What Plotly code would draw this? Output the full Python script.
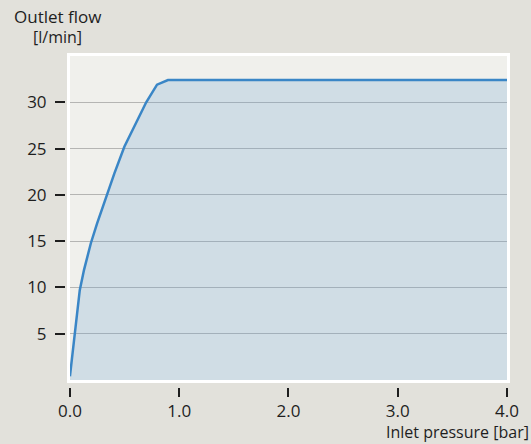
import plotly.graph_objects as go

# Кривая расхода: давление на входе [bar] -> расход [l/min]
pressure = [0.0, 0.045, 0.09, 0.129, 0.192, 0.248, 0.331, 0.406, 0.498, 0.602, 0.698, 0.797, 0.897, 4.0]
flow = [0.4, 5.0, 9.7, 11.9, 14.8, 16.9, 19.8, 22.3, 25.2, 27.7, 30.0, 31.9, 32.4, 32.4]

x_ticks = [0, 1, 2, 3, 4]
x_tick_labels = ["0.0", "1.0", "2.0", "3.0", "4.0"]
y_ticks = [5, 10, 15, 20, 25, 30]
y_tick_labels = ["5", "10", "15", "20", "25", "30"]

PAGE_BG = "#e2e1db"
PLOT_BG = "#f0f0ec"
FILL = "rgba(107, 161, 207, 0.24)"  # полупрозрачная, чтобы сетка была видна
GRID = "#b5b5b3"
LINE = "#3a86c6"
TEXT = "#1e1e1e"
FONT = "Open Sans"

W, H = 531, 444
ML, MR, MT, MB = 65, 18, 56, 57
x_dom0 = (70 - ML) / (W - ML - MR)
y_dom0 = (H - MB - 380) / (H - MT - MB)

fig = go.Figure()

fig.add_trace(go.Scatter(
    x=pressure,
    y=flow,
    mode="lines",
    line=dict(color=LINE, width=2.5),
    fill="tozeroy",
    fillcolor=FILL,
    hoverinfo="skip",
    showlegend=False,
))

# пустой след для осей с отступом (засечки отдельно от рамки)
fig.add_trace(go.Scatter(x=[], y=[], xaxis="x2", yaxis="y2", showlegend=False))

tick_font = dict(family=FONT, size=17, color=TEXT)


def text_note(text, x, y, xshift, yshift, xanchor, size=17):
    return dict(
        text=text,
        xref="paper", yref="paper",
        x=x, y=y,
        xshift=xshift, yshift=yshift,
        xanchor=xanchor, yanchor="middle",
        showarrow=False,
        font=dict(family=FONT, size=size, color=TEXT),
    )


fig.update_layout(
    width=W,
    height=H,
    margin=dict(l=ML, r=MR, t=MT, b=MB),
    paper_bgcolor=PAGE_BG,
    plot_bgcolor=PLOT_BG,
    font=dict(family=FONT, color=TEXT),
    xaxis=dict(
        domain=[x_dom0, 1],
        range=[0, 4],
        showgrid=False,
        zeroline=False,
        showticklabels=False,
        ticks="",
        showline=True,
        linecolor="white",
        linewidth=3,
        mirror=True,
    ),
    yaxis=dict(
        domain=[y_dom0, 1],
        range=[0, 35],
        tickvals=y_ticks,
        showgrid=True,
        gridcolor=GRID,
        gridwidth=1.4,
        zeroline=False,
        showticklabels=False,
        ticks="",
        showline=True,
        linecolor="white",
        linewidth=3,
        mirror=True,
    ),
    xaxis2=dict(
        domain=[x_dom0, 1],
        range=[0, 4],
        overlaying="x",
        anchor="free",
        position=0,
        tickvals=x_ticks,
        ticktext=x_tick_labels,
        ticks="outside",
        ticklen=9,
        tickwidth=1.5,
        tickcolor=TEXT,
        tickfont=tick_font,
        showgrid=False,
        zeroline=False,
        showline=False,
    ),
    yaxis2=dict(
        domain=[y_dom0, 1],
        range=[0, 35],
        overlaying="y",
        anchor="free",
        position=0,
        side="left",
        tickvals=y_ticks,
        ticktext=y_tick_labels,
        ticks="outside",
        ticklen=10,
        tickwidth=1.5,
        tickcolor=TEXT,
        tickfont=tick_font,
        ticklabelstandoff=5,
        showgrid=False,
        zeroline=False,
        showline=False,
    ),
    annotations=[
        text_note("Outlet flow", 0, 1, 57 - ML, MT - 16, "center"),
        text_note("[l/min]", 0, 1, 57 - ML, MT - 37, "center", size=16),
        text_note("Inlet pressure [bar]", 1, 0, MR + 6, -45, "right", size=16),
    ],
)

# убрать отступ body, чтобы график стоял в углу окна
fig.write_html(
    "out.html",
    config={"displayModeBar": False},
    post_script="document.body.style.margin='0';",
)
